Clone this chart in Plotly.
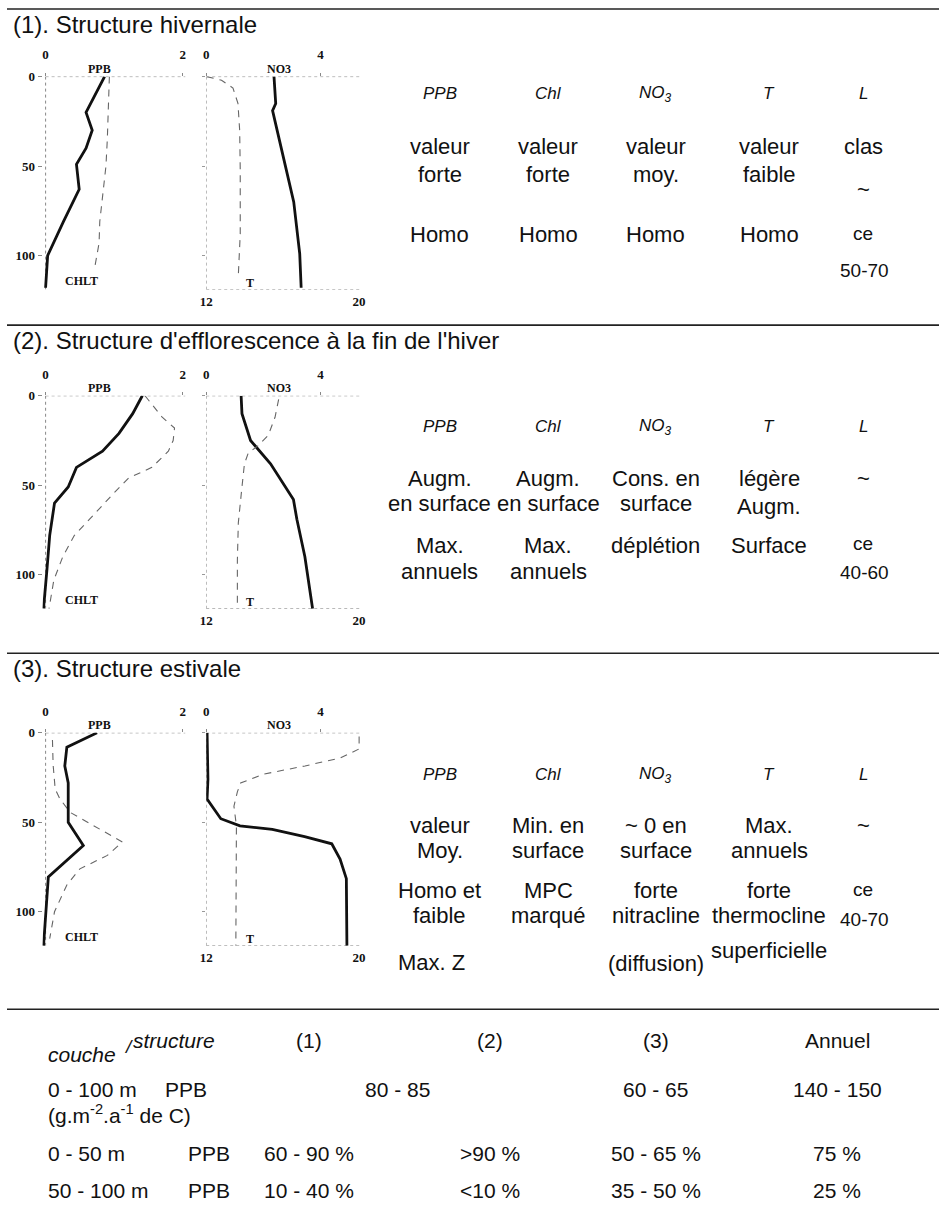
import plotly.graph_objects as go

W, H = 945, 1220
DEPTH_MAX = 119

# ---------------- data : panel 1 (structure hivernale) ----------------
p1_ppb = [0.86, 0.59, 0.68, 0.59, 0.45, 0.49, 0.26, 0.03, 0.0]
p1_ppb_z = [0, 20, 30, 40, 49, 63, 81, 100, 118]
p1_chl = [0.93, 0.92, 0.90, 0.88, 0.84, 0.79, 0.78, 0.71]
p1_chl_z = [0, 15, 35, 50, 64, 81, 93, 108]
p1_no3 = [2.37, 2.43, 2.32, 2.54, 2.77, 3.06, 3.17, 3.27, 3.32]
p1_no3_z = [0, 15, 19, 35, 50, 70, 86, 99, 118]
p1_t = [12.03, 12.8, 13.4, 13.66, 13.75, 13.78, 13.78, 13.68]
p1_t_z = [0, 2, 6.4, 15, 30, 52, 88, 111]

# ---------------- data : panel 2 (efflorescence fin d'hiver) ----------------
p2_ppb = [1.41, 1.27, 1.07, 0.83, 0.45, 0.33, 0.13, 0.06, 0.02, -0.03]
p2_ppb_z = [0, 10, 21, 31, 40, 51, 60, 78, 97, 119]
p2_chl = [1.45, 1.70, 1.88, 1.86, 1.79, 1.55, 1.21, 0.98, 0.69, 0.42, 0.25, 0.12, 0.05]
p2_chl_z = [0, 12, 18, 25, 31, 40, 46, 55, 67, 78, 90, 103, 119]
p2_no3 = [1.22, 1.25, 1.55, 2.25, 3.05, 3.17, 3.45, 3.62, 3.72]
p2_no3_z = [0, 10, 25, 38, 58, 69, 90, 108, 119]
p2_t = [15.79, 15.6, 15.25, 14.7, 14.2, 14.0, 13.85, 13.68, 13.63, 13.63]
p2_t_z = [2, 12, 22, 28, 32, 38, 53, 71, 92, 119]

# ---------------- data : panel 3 (structure estivale) ----------------
p3_ppb = [0.75, 0.31, 0.28, 0.33, 0.33, 0.55, 0.04, 0.0, -0.03]
p3_ppb_z = [0, 8, 18.5, 28, 50, 63, 80.5, 102, 119]
p3_chl = [0.10, 0.11, 0.14, 0.21, 0.36, 0.70, 1.12, 0.90, 0.50, 0.31, 0.13, 0.06]
p3_chl_z = [4, 18, 31.5, 37, 44.5, 52, 61, 68.5, 76, 85, 100, 115]
p3_no3 = [0.03, 0.06, 0.03, 0.28, 0.51, 1.18, 2.31, 3.44, 4.39, 4.68, 4.90, 4.92]
p3_no3_z = [0, 26, 37, 43, 48, 52, 54, 58, 62, 70.5, 81.5, 119]
p3_t = [20.0, 20.0, 19.03, 17.17, 15.04, 13.80, 13.63, 13.45, 13.58, 13.58, 13.55]
p3_t_z = [2, 9, 14, 18.5, 23, 28, 33, 41, 52, 70, 119]

# ---------------- tick labels ----------------
ppb_ticks = [0, 2]
no3_ticks = [0, 4]
t_ticks = [12, 20]
depth_ticks = [0, 50, 100]

# ---------------- text content ----------------
titles = ["(1). Structure hivernale",
          "(2). Structure d'efflorescence à la fin de l'hiver",
          "(3). Structure estivale"]
headers = ["PPB", "Chl", "NO<sub>3</sub>", "T", "L"]

table_cols = ["(1)", "(2)", "(3)", "Annuel"]
row_0_100 = ["80 - 85", "60 - 65", "140 - 150"]
row_0_50 = ["60 - 90 %", ">90 %", "50 - 65 %", "75 %"]
row_50_100 = ["10 - 40 %", "<10 %", "35 - 50 %", "25 %"]

# ---------------- geometry ----------------
SANS = "Liberation Sans, Arial, sans-serif"
SERIF = "Liberation Serif, Times New Roman, serif"
PX_PER_M = 1.8
PPB_DOM = (36, 181)
PPB_RANGE = [-0.045, 2.04]
R_DOM = (202, 358)
NO3_RANGE = [0, 5.38]
T_RANGE = [12, 20.05]
panel_tops = [70, 391, 730]

panels = [
    dict(ppb=(p1_ppb, p1_ppb_z), chl=(p1_chl, p1_chl_z), no3=(p1_no3, p1_no3_z), t=(p1_t, p1_t_z)),
    dict(ppb=(p2_ppb, p2_ppb_z), chl=(p2_chl, p2_chl_z), no3=(p2_no3, p2_no3_z), t=(p2_t, p2_t_z)),
    dict(ppb=(p3_ppb, p3_ppb_z), chl=(p3_chl, p3_chl_z), no3=(p3_no3, p3_no3_z), t=(p3_t, p3_t_z)),
]


def sfx(n):
    return "" if n == 1 else str(n)


def px(x):
    return x / W


def py(y):
    return 1 - y / H


fig = go.Figure()
layout = dict(width=W, height=H, margin=dict(l=0, r=0, t=0, b=0), autosize=False,
              paper_bgcolor="white", plot_bgcolor="rgba(0,0,0,0)", showlegend=False)
shapes = []
annotations = []

SOLID = dict(color="#111", width=2.8)
DASH = dict(color="#666", width=1.1, dash="7px,6px")
DOT = dict(color="#888", width=1, dash="dot")
tickfont = dict(family=SERIF, size=13, color="#111", weight="bold")
labfont = dict(family=SERIF, size=12, color="#111")

for i, pnl in enumerate(panels):
    top = panel_tops[i]
    bot = top + DEPTH_MAX * PX_PER_M
    ydom = [py(bot), py(top)]
    xa, xb, xc = 3 * i + 1, 3 * i + 2, 3 * i + 3
    ya, yb = 2 * i + 1, 2 * i + 2

    layout["xaxis" + sfx(xa)] = dict(domain=[px(PPB_DOM[0]), px(PPB_DOM[1])], range=PPB_RANGE,
                                     anchor="y" + sfx(ya), side="top", tickvals=ppb_ticks,
                                     ticks="outside", ticklen=3, tickcolor="#888",
                                     ticklabelstandoff=8, tickfont=tickfont,
                                     showgrid=False, zeroline=False, showline=False)
    layout["yaxis" + sfx(ya)] = dict(domain=ydom, range=[DEPTH_MAX, 0], anchor="x" + sfx(xa),
                                     tickvals=depth_ticks, ticks="outside", ticklen=4,
                                     tickcolor="#888", tickfont=tickfont,
                                     showgrid=False, zeroline=False, showline=False)
    layout["xaxis" + sfx(xb)] = dict(domain=[px(R_DOM[0]), px(R_DOM[1])], range=NO3_RANGE,
                                     anchor="y" + sfx(yb), side="top", tickvals=no3_ticks,
                                     ticks="outside", ticklen=3, tickcolor="#888",
                                     ticklabelstandoff=8, tickfont=tickfont,
                                     showgrid=False, zeroline=False, showline=False)
    layout["xaxis" + sfx(xc)] = dict(range=T_RANGE, overlaying="x" + sfx(xb),
                                     anchor="y" + sfx(yb), side="bottom", tickvals=t_ticks,
                                     ticks="", tickfont=tickfont, ticklabelstandoff=2,
                                     showgrid=False, zeroline=False, showline=False)
    layout["yaxis" + sfx(yb)] = dict(domain=ydom, range=[DEPTH_MAX, 0], anchor="x" + sfx(xb),
                                     tickvals=depth_ticks, ticks="outside", ticklen=3,
                                     tickcolor="#999", showticklabels=False, tickfont=tickfont,
                                     showgrid=False, zeroline=False, showline=False)

    def dline(xr, yr, x0, x1, y0, y1):
        shapes.append(dict(type="line", xref=xr, yref=yr, x0=x0, x1=x1, y0=y0, y1=y1,
                           line=DOT, layer="below"))

    dline("x" + sfx(xa), "y" + sfx(ya), 0, PPB_RANGE[1], 0, 0)
    dline("x" + sfx(xa), "y" + sfx(ya), 0, 0, 0, DEPTH_MAX)
    dline("x" + sfx(xb), "y" + sfx(yb), 0, NO3_RANGE[1], 0, 0)
    dline("x" + sfx(xb), "y" + sfx(yb), 0, 0, 0, DEPTH_MAX)
    dline("x" + sfx(xb), "y" + sfx(yb), 0, NO3_RANGE[1], DEPTH_MAX, DEPTH_MAX)

    fig.add_trace(go.Scatter(x=pnl["chl"][0], y=pnl["chl"][1], mode="lines", line=DASH,
                             xaxis="x" + sfx(xa), yaxis="y" + sfx(ya), hoverinfo="skip"))
    fig.add_trace(go.Scatter(x=pnl["ppb"][0], y=pnl["ppb"][1], mode="lines", line=SOLID,
                             xaxis="x" + sfx(xa), yaxis="y" + sfx(ya), hoverinfo="skip"))
    fig.add_trace(go.Scatter(x=pnl["t"][0], y=pnl["t"][1], mode="lines", line=DASH,
                             xaxis="x" + sfx(xc), yaxis="y" + sfx(yb), hoverinfo="skip"))
    fig.add_trace(go.Scatter(x=pnl["no3"][0], y=pnl["no3"][1], mode="lines", line=SOLID,
                             xaxis="x" + sfx(xb), yaxis="y" + sfx(yb), hoverinfo="skip"))

    annotations.append(dict(text="<b>PPB</b>", x=0.78, y=0, xref="x" + sfx(xa), yref="y" + sfx(ya),
                            yanchor="bottom", showarrow=False, font=labfont, yshift=-1))
    annotations.append(dict(text="<b>NO3</b>", x=2.55, y=0, xref="x" + sfx(xb), yref="y" + sfx(yb),
                            yanchor="bottom", showarrow=False, font=labfont, yshift=-1))
    annotations.append(dict(text="<b>CHLT</b>", x=0.52, y=DEPTH_MAX, xref="x" + sfx(xa),
                            yref="y" + sfx(ya), yanchor="bottom", showarrow=False, font=labfont))
    annotations.append(dict(text="<b>T</b>", x=14.3, y=DEPTH_MAX, xref="x" + sfx(xc),
                            yref="y" + sfx(yb), yanchor="bottom", showarrow=False, font=labfont,
                            yshift=-2))


def txt(x, y, s, size=22, anchor="center", italic=False):
    annotations.append(dict(text=("<i>%s</i>" % s) if italic else s, x=px(x), y=py(y),
                            xref="paper", yref="paper", xanchor=anchor, yanchor="middle",
                            showarrow=False, font=dict(family=SANS, size=size, color="#111")))


def rule(y):
    shapes.append(dict(type="line", xref="paper", yref="paper", x0=0, x1=1, y0=py(y), y1=py(y),
                       line=dict(color="#222", width=1.6)))


for y in [2, 320, 650, 1008]:
    rule(y)
for s, y in zip(titles, [18, 335, 665]):
    txt(4, y, s, size=24, anchor="left")

col_x = [439, 549, 658, 773, 868]
HS = 17
SZ = 22
SL = 19

# panel 1 text
for cx, h in zip(col_x, headers):
    txt(cx, 87, h, size=HS, italic=True)
for cx, s in zip(col_x, ["valeur", "valeur", "valeur", "valeur", "clas"]):
    txt(cx, 140, s, SZ)
for cx, s in zip(col_x, ["forte", "forte", "moy.", "faible"]):
    txt(cx, 168, s, SZ)
txt(col_x[4], 184, "~", SZ)
for cx in col_x[:4]:
    txt(cx, 229, "Homo", SZ)
txt(col_x[4], 228, "ce", SL)
txt(col_x[4] + 1, 265, "50-70", SL)

# panel 2 text
for cx, h in zip(col_x, headers):
    txt(cx, 422, h, size=HS, italic=True)
for cx, s in zip(col_x, ["Augm.", "Augm.", "Cons. en", "légère", "~"]):
    txt(cx, 474, s, SZ)
for cx, s in zip(col_x, ["en surface", "en surface", "surface"]):
    txt(cx, 499, s, SZ)
txt(col_x[3], 502, "Augm.", SZ)
for cx, s in zip(col_x, ["Max.", "Max.", "déplétion", "Surface"]):
    txt(cx, 542, s, SZ)
txt(col_x[4], 540, "ce", SL)
for cx, s in zip(col_x, ["annuels", "annuels"]):
    txt(cx, 568, s, SZ)
txt(col_x[4] + 1, 569, "40-60", SL)

# panel 3 text
for cx, h in zip(col_x, headers):
    txt(cx, 772, h, size=HS, italic=True)
for cx, s in zip(col_x, ["valeur", "Min. en", "~ 0 en", "Max.", "~"]):
    txt(cx, 823, s, SZ)
for cx, s in zip(col_x, ["Moy.", "surface", "surface", "annuels"]):
    txt(cx, 848, s, SZ)
for cx, s in zip(col_x, ["Homo et", "MPC", "forte", "forte"]):
    txt(cx, 889, s, SZ)
txt(col_x[4], 888, "ce", SL)
for cx, s in zip(col_x, ["faible", "marqué", "nitracline", "thermocline"]):
    txt(cx, 914, s, SZ)
txt(col_x[4] + 1, 918, "40-70", SL)
txt(430, 961, "Max. Z", SZ)
txt(col_x[2], 962, "(diffusion)", SZ)
txt(col_x[3], 949, "superficielle", SZ)

# bottom table
tab_x = [306, 490, 658, 842]
ST = 21
txt(40, 1054, "couche", ST, anchor="left", italic=True)
txt(117, 1046, "/", 19, anchor="left", italic=True)
txt(126, 1039, "structure", ST, anchor="left", italic=True)
for cx, s in zip(tab_x, table_cols):
    txt(cx, 1039, s, ST)
txt(40, 1089, "0 - 100 m", ST, anchor="left")
txt(158, 1089, "PPB", ST, anchor="left")
txt(40, 1113, "(g.m<sup>-2</sup>.a<sup>-1</sup> de C)", ST, anchor="left")
txt((tab_x[0] + tab_x[1]) / 2 - 2, 1089, row_0_100[0], ST)
txt(tab_x[2], 1089, row_0_100[1], ST)
txt(tab_x[3], 1089, row_0_100[2], ST)
txt(40, 1153, "0 - 50 m", ST, anchor="left")
txt(182, 1153, "PPB", ST, anchor="left")
for cx, s in zip(tab_x, row_0_50):
    txt(cx, 1153, s, ST)
txt(40, 1190, "50 - 100 m", ST, anchor="left")
txt(182, 1190, "PPB", ST, anchor="left")
for cx, s in zip(tab_x, row_50_100):
    txt(cx, 1190, s, ST)

layout["shapes"] = shapes
layout["annotations"] = annotations
fig.update_layout(**layout)
fig.write_html("out.html")
